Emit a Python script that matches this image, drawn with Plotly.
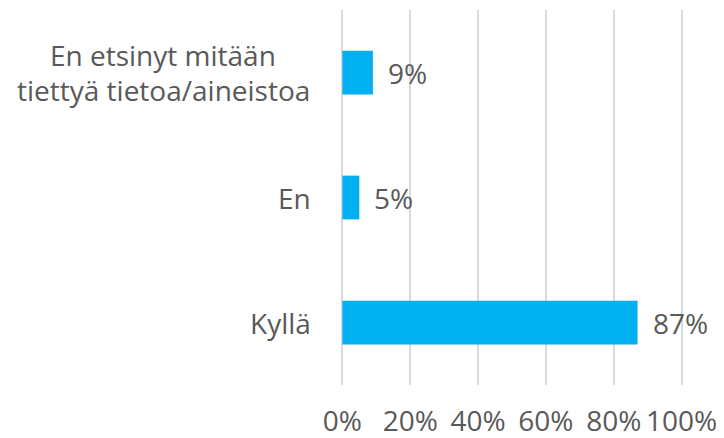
import plotly.graph_objects as go

categories = ["Kyllä", "En", "En etsinyt mitään<br>tiettyä tietoa/aineistoa"]
values = [87, 5, 9]
tick_vals = [0, 20, 40, 60, 80, 100]
tick_text = ["0%", "20%", "40%", "60%", "80%", "100%"]

FONT = "Open Sans"
TXT = "#595959"
SIZE = 28

fig = go.Figure()
fig.add_trace(go.Bar(
    x=values, y=categories, orientation="h",
    marker=dict(color="#00B0F0", line=dict(width=0)),
    hoverinfo="skip",
))

annotations = []
for c, v in zip(categories, values):
    annotations.append(dict(
        x=v, y=c, xref="x", yref="y", text=f"{v}%", showarrow=False,
        xanchor="left", xshift=13, font=dict(family=FONT, size=SIZE, color=TXT)))
    lines = c.split("<br>")
    if len(lines) == 1:
        annotations.append(dict(
            x=0, y=c, xref="paper", yref="y", text=c, showarrow=False,
            xanchor="right", xshift=-28,
            font=dict(family=FONT, size=SIZE, color=TXT)))
    else:
        n = len(lines)
        for i, ln in enumerate(lines):
            annotations.append(dict(
                x=-0.52, y=c, xref="paper", yref="y", text=ln, showarrow=False,
                xanchor="center", yshift=(n - 1) / 2 * 35 - i * 35,
                font=dict(family=FONT, size=SIZE, color=TXT)))

fig.update_layout(
    width=716, height=430,
    margin=dict(l=333, r=41, t=2, b=53),
    paper_bgcolor="white", plot_bgcolor="white",
    showlegend=False,
    bargap=0.65,
    font=dict(family=FONT, size=SIZE, color=TXT),
    xaxis=dict(
        range=[-0.4, 100.4], tickvals=tick_vals, ticktext=tick_text,
        tickangle=0, automargin=False,
        showgrid=True, gridcolor="#D9D9D9", gridwidth=1.5,
        zeroline=False, showline=False,
        ticks="outside", ticklen=11, tickcolor="rgba(0,0,0,0)",
        tickfont=dict(family=FONT, size=SIZE, color=TXT),
        fixedrange=True,
    ),
    yaxis=dict(
        showticklabels=False, showgrid=False, zeroline=False, showline=False,
        fixedrange=True, automargin=False,
    ),
    annotations=annotations,
)

fig.write_html("out.html")
